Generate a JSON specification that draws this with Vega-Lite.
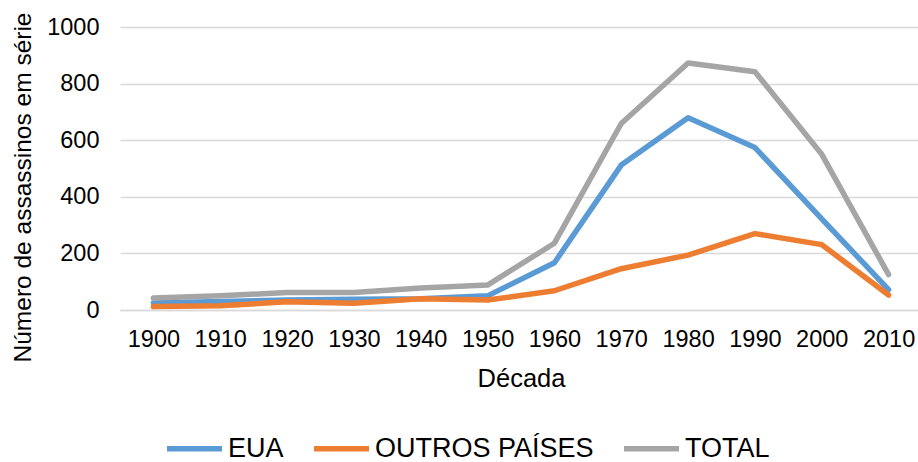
{
  "$schema": "https://vega.github.io/schema/vega-lite/v6.json",
  "width": 802,
  "height": 283,
  "autosize": {"type": "none"},
  "padding": {"left": 120, "top": 27, "right": 0, "bottom": 152},
  "background": "white",
  "data": {
    "values": [
      {"decada": "1900", "serie": "EUA", "valor": 25},
      {"decada": "1910", "serie": "EUA", "valor": 30},
      {"decada": "1920", "serie": "EUA", "valor": 35},
      {"decada": "1930", "serie": "EUA", "valor": 38},
      {"decada": "1940", "serie": "EUA", "valor": 40},
      {"decada": "1950", "serie": "EUA", "valor": 50},
      {"decada": "1960", "serie": "EUA", "valor": 167},
      {"decada": "1970", "serie": "EUA", "valor": 512},
      {"decada": "1980", "serie": "EUA", "valor": 679},
      {"decada": "1990", "serie": "EUA", "valor": 574},
      {"decada": "2000", "serie": "EUA", "valor": 322},
      {"decada": "2010", "serie": "EUA", "valor": 72},
      {"decada": "1900", "serie": "OUTROS PAÍSES", "valor": 12},
      {"decada": "1910", "serie": "OUTROS PAÍSES", "valor": 15},
      {"decada": "1920", "serie": "OUTROS PAÍSES", "valor": 29},
      {"decada": "1930", "serie": "OUTROS PAÍSES", "valor": 24},
      {"decada": "1940", "serie": "OUTROS PAÍSES", "valor": 40},
      {"decada": "1950", "serie": "OUTROS PAÍSES", "valor": 35},
      {"decada": "1960", "serie": "OUTROS PAÍSES", "valor": 68},
      {"decada": "1970", "serie": "OUTROS PAÍSES", "valor": 146},
      {"decada": "1980", "serie": "OUTROS PAÍSES", "valor": 194},
      {"decada": "1990", "serie": "OUTROS PAÍSES", "valor": 270},
      {"decada": "2000", "serie": "OUTROS PAÍSES", "valor": 231},
      {"decada": "2010", "serie": "OUTROS PAÍSES", "valor": 53},
      {"decada": "1900", "serie": "TOTAL", "valor": 42},
      {"decada": "1910", "serie": "TOTAL", "valor": 50},
      {"decada": "1920", "serie": "TOTAL", "valor": 62},
      {"decada": "1930", "serie": "TOTAL", "valor": 62},
      {"decada": "1940", "serie": "TOTAL", "valor": 78},
      {"decada": "1950", "serie": "TOTAL", "valor": 88},
      {"decada": "1960", "serie": "TOTAL", "valor": 236},
      {"decada": "1970", "serie": "TOTAL", "valor": 659},
      {"decada": "1980", "serie": "TOTAL", "valor": 873},
      {"decada": "1990", "serie": "TOTAL", "valor": 842},
      {"decada": "2000", "serie": "TOTAL", "valor": 550},
      {"decada": "2010", "serie": "TOTAL", "valor": 125}
    ]
  },
  "mark": {"type": "line", "strokeWidth": 5.5, "strokeCap": "round", "strokeJoin": "round"},
  "encoding": {
    "x": {
      "field": "decada",
      "type": "ordinal",
      "scale": {"type": "point", "padding": 0.5},
      "axis": {
        "title": "Década",
        "titleFont": "Liberation Sans",
        "titleFontSize": 25.5,
        "titleFontWeight": "normal",
        "titleColor": "#000000",
        "titleBaseline": "alphabetic",
        "titleY": 76,
        "labelFont": "Liberation Sans",
        "labelFontSize": 23.5,
        "labelColor": "#000000",
        "labelAngle": 0,
        "labelPadding": 17,
        "ticks": false,
        "tickSize": 0,
        "domainColor": "#d9d9d9",
        "domainWidth": 1.5,
        "grid": false
      }
    },
    "y": {
      "field": "valor",
      "type": "quantitative",
      "scale": {"domain": [0, 1000]},
      "axis": {
        "title": "Número de assassinos em série",
        "titleFont": "Liberation Sans",
        "titleFontSize": 24.5,
        "titleFontWeight": "normal",
        "titleColor": "#000000",
        "titleAngle": 270,
        "titleAlign": "center",
        "titleBaseline": "middle",
        "titleX": -97,
        "titleY": 160,
        "values": [0, 200, 400, 600, 800, 1000],
        "format": "d",
        "labelFont": "Liberation Sans",
        "labelFontSize": 23.5,
        "labelColor": "#000000",
        "labelPadding": 21,
        "ticks": false,
        "tickSize": 0,
        "domain": false,
        "grid": true,
        "gridColor": "#d9d9d9",
        "gridWidth": 1.5
      }
    },
    "color": {
      "field": "serie",
      "type": "nominal",
      "scale": {
        "domain": ["EUA", "OUTROS PAÍSES", "TOTAL"],
        "range": ["#5b9bd5", "#ed7d31", "#a5a5a5"]
      },
      "legend": {
        "title": null,
        "orient": "none",
        "direction": "horizontal",
        "legendX": 44,
        "legendY": 391,
        "symbolType": "stroke",
        "symbolSize": 3025,
        "symbolStrokeWidth": 5.5,
        "labelFont": "Liberation Sans",
        "labelFontSize": 27,
        "labelLimit": 0,
        "labelColor": "#000000",
        "labelOffset": 3,
        "columnPadding": 19
      }
    }
  },
  "config": {"view": {"stroke": null}}
}
